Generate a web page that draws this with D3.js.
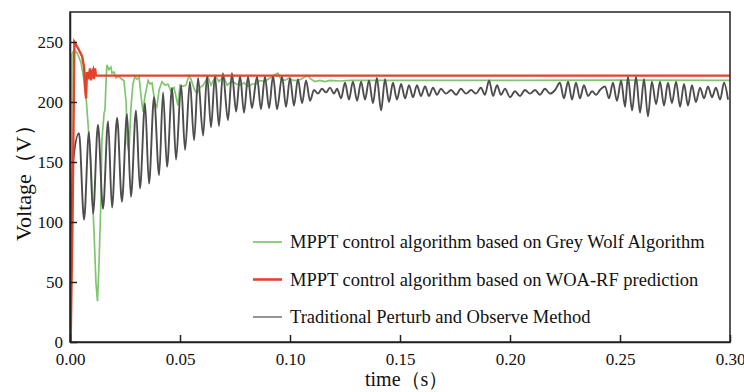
<!DOCTYPE html>
<html lang="en">
<head>
<meta charset="utf-8"/>
<script src="https://d3js.org/d3.v7.min.js"></script>
<title>MPPT voltage</title>
<style>
    body { margin: 0; background: #fff; }
    svg text { font-family: "Liberation Serif", "Times New Roman", serif; fill: #111; }
    .axis path, .axis line { stroke: #222; stroke-width: 1.5; }
    .axis text { font-size: 17px; }
    .trace { fill: none; }
</style>
</head>
<body>
<svg id="chart" width="744" height="392"></svg>
<script>
    // ticks
    const xTicks = [0, 0.05, 0.10, 0.15, 0.20, 0.25, 0.30];
    const yTicks = [0, 50, 100, 150, 200, 250];

    const legendLabels = [
        "MPPT control algorithm based on Grey Wolf Algorithm",
        "MPPT control algorithm based on WOA-RF prediction",
        "Traditional Perturb and Observe Method"
    ];

    // [time (s), voltage (V)]
    const greyWolf = [
        [0, 5], [0.0005, 120], [0.0009, 240], [0.0018, 243], [0.0032, 241], [0.0050, 233],
        [0.0064, 218], [0.0073, 204], [0.0082, 182], [0.0095, 149], [0.0109, 93], [0.0118, 49],
        [0.0125, 34], [0.0132, 66], [0.0141, 121], [0.0145, 168], [0.0155, 191], [0.0159, 193],
        [0.0164, 218], [0.0168, 231], [0.0177, 227], [0.0186, 229], [0.0191, 224], [0.0200, 225],
        [0.0209, 220], [0.0223, 221], [0.0236, 219], [0.0245, 218], [0.0255, 200], [0.0261, 165],
        [0.0268, 158], [0.0277, 195], [0.0286, 215], [0.0295, 221], [0.0305, 219], [0.0314, 221],
        [0.0323, 205], [0.0332, 192], [0.0341, 205], [0.0355, 218], [0.0364, 215], [0.0373, 216],
        [0.0386, 199], [0.0395, 196], [0.0405, 210], [0.0418, 217], [0.0432, 214], [0.0445, 215],
        [0.0459, 209], [0.0473, 212], [0.0486, 201], [0.0491, 197], [0.0500, 214], [0.0514, 213],
        [0.0527, 214], [0.0541, 222], [0.0550, 219], [0.0564, 211], [0.0577, 207], [0.0591, 212],
        [0.0605, 214], [0.0618, 218], [0.0627, 221], [0.0641, 214], [0.0655, 219], [0.0664, 221],
        [0.0677, 217], [0.0691, 220], [0.0700, 221], [0.0714, 214], [0.0727, 216], [0.0741, 217],
        [0.0755, 215], [0.0773, 214], [0.0791, 216], [0.0809, 213], [0.0827, 215], [0.0845, 215],
        [0.0864, 218], [0.0882, 217], [0.0900, 219], [0.0918, 221], [0.0932, 223], [0.0945, 224],
        [0.0959, 219], [0.0977, 218], [0.0995, 220], [0.1014, 218], [0.1032, 218], [0.1050, 219],
        [0.1068, 221], [0.1082, 222], [0.1095, 219], [0.1114, 217], [0.1136, 218], [0.1159, 217],
        [0.1182, 218], [0.1227, 217.5], [0.1273, 218], [0.15, 218], [0.20, 218], [0.25, 218.2], [0.30, 218]
    ];

    const woaRf = [
        [0.0003, 0], [0.0012, 110], [0.0020, 250], [0.0036, 245], [0.0055, 238], [0.0064, 229],
        [0.0068, 213], [0.0073, 203], [0.0077, 225], [0.0082, 219], [0.0086, 222], [0.0091, 228],
        [0.0095, 218], [0.0100, 225], [0.0105, 227], [0.0109, 219], [0.0114, 228], [0.0118, 222],
        [0.30, 222]
    ];

    const perturbObserve = [
        [0, 0], [0.0014, 150], [0.0041, 174], [0.0064, 102], [0.0086, 175], [0.0105, 107],
        [0.0127, 181], [0.0150, 111], [0.0173, 184], [0.0191, 112], [0.0214, 187], [0.0236, 117],
        [0.0259, 190], [0.0277, 121], [0.0300, 193], [0.0318, 128], [0.0341, 199], [0.0359, 132],
        [0.0382, 204], [0.0405, 139], [0.0423, 208], [0.0441, 146], [0.0464, 212], [0.0482, 152],
        [0.0505, 214], [0.0523, 160], [0.0545, 217], [0.0564, 168], [0.0582, 220], [0.0605, 172],
        [0.0623, 222], [0.0641, 179], [0.0659, 222], [0.0677, 180], [0.0695, 224], [0.0718, 185],
        [0.0736, 224], [0.0755, 192], [0.0773, 222], [0.0791, 191], [0.0809, 221], [0.0827, 195],
        [0.0850, 221], [0.0868, 194], [0.0886, 221], [0.0905, 195], [0.0923, 222], [0.0941, 194],
        [0.0964, 221], [0.0982, 196], [0.1000, 220], [0.1018, 197], [0.1036, 219], [0.1055, 199],
        [0.1073, 218], [0.1091, 201], [0.1109, 210], [0.1127, 207], [0.1145, 211], [0.1164, 208],
        [0.1182, 212], [0.1200, 207], [0.1214, 211], [0.1232, 203], [0.1250, 216], [0.1268, 202],
        [0.1286, 217], [0.1305, 201], [0.1323, 217], [0.1341, 202], [0.1359, 218], [0.1377, 199],
        [0.1395, 220], [0.1414, 193], [0.1432, 219], [0.1450, 200], [0.1468, 216], [0.1486, 202],
        [0.1505, 215], [0.1523, 203], [0.1541, 214], [0.1559, 204], [0.1577, 214], [0.1595, 205],
        [0.1614, 213], [0.1632, 205], [0.1650, 212], [0.1668, 206], [0.1686, 211], [0.1709, 207],
        [0.1732, 210], [0.1755, 206], [0.1777, 211], [0.1800, 207], [0.1823, 210], [0.1845, 207],
        [0.1868, 212], [0.1886, 206], [0.1905, 218], [0.1923, 205], [0.1941, 214], [0.1959, 206],
        [0.1977, 211], [0.2000, 204], [0.2023, 209], [0.2045, 205], [0.2068, 210], [0.2091, 207],
        [0.2114, 210], [0.2136, 206], [0.2159, 211], [0.2182, 207], [0.2205, 210], [0.2227, 216],
        [0.2245, 203], [0.2264, 217], [0.2282, 202], [0.2300, 216], [0.2318, 203], [0.2336, 214],
        [0.2355, 205], [0.2373, 209], [0.2391, 206], [0.2409, 210], [0.2432, 213], [0.2450, 203],
        [0.2468, 216], [0.2486, 201], [0.2505, 218], [0.2523, 196], [0.2536, 221], [0.2555, 193],
        [0.2573, 221], [0.2591, 191], [0.2609, 219], [0.2627, 188], [0.2645, 217], [0.2664, 198],
        [0.2682, 217], [0.2700, 197], [0.2718, 216], [0.2736, 199], [0.2755, 217], [0.2773, 196],
        [0.2791, 215], [0.2809, 197], [0.2827, 214], [0.2845, 200], [0.2864, 212], [0.2882, 203],
        [0.2900, 213], [0.2918, 204], [0.2936, 212], [0.2955, 202], [0.2973, 216], [0.2991, 202]
    ];

    const colors = {gwo: "#80c670", woa: "#e3432b", po: "#4f4c4e"};

    const svg = d3.select("#chart");
    const margin = {top: 12, right: 14, bottom: 50, left: 70};
    const W = 744 - margin.left - margin.right;
    const H = 392 - margin.top - margin.bottom;

    const x = d3.scaleLinear().domain([0, 0.3]).range([0, W]);
    const y = d3.scaleLinear().domain([0, 275]).range([H, 0]);

    const g = svg.append("g").attr("transform", `translate(${margin.left},${margin.top})`);

    g.append("clipPath").attr("id", "clip")
        .append("rect").attr("width", W).attr("height", H);

    const line = d3.line().x(d => x(d[0])).y(d => y(d[1]));
    const smooth = d3.line().x(d => x(d[0])).y(d => y(d[1])).curve(d3.curveMonotoneX);

    const plot = g.append("g").attr("clip-path", "url(#clip)");
    plot.append("path").attr("class", "trace").attr("d", line(greyWolf))
        .attr("stroke", colors.gwo).attr("stroke-width", 1.7);
    plot.append("path").attr("class", "trace").attr("d", smooth(perturbObserve))
        .attr("stroke", colors.po).attr("stroke-width", 1.9);
    plot.append("path").attr("class", "trace").attr("d", line(woaRf))
        .attr("stroke", colors.woa).attr("stroke-width", 2.4);

    // axes, ticks pointing inward
    g.append("g").attr("class", "axis")
        .attr("transform", `translate(0,${H})`)
        .call(d3.axisBottom(x).tickValues(xTicks).tickFormat(d3.format(".2f"))
            .tickSizeInner(-7).tickSizeOuter(0).tickPadding(11));
    g.append("g").attr("class", "axis")
        .call(d3.axisLeft(y).tickValues(yTicks).tickSizeInner(-7).tickSizeOuter(0).tickPadding(7));

    g.append("rect").attr("width", W).attr("height", H)
        .attr("fill", "none").attr("stroke", "#222").attr("stroke-width", 1.5);

    svg.append("text")
        .attr("transform", "translate(31,241) rotate(-90)")
        .attr("text-anchor", "start")
        .style("font-size", "22px")
        .text("Voltage（V）");

    svg.append("text")
        .attr("x", 365).attr("y", 386)
        .attr("text-anchor", "start")
        .style("font-size", "20px")
        .text("time（s）");

    // legend
    const legColors = [colors.gwo, colors.woa, colors.po];
    const legWidths = [1.7, 2.6, 1.2];
    const leg = svg.append("g").attr("transform", "translate(253,242)");
    legendLabels.forEach((label, i) => {
        const row = leg.append("g").attr("transform", `translate(0,${i * 37.5})`);
        row.append("line").attr("x1", 0).attr("x2", 29)
            .attr("stroke", legColors[i]).attr("stroke-width", legWidths[i]);
        row.append("text").attr("x", 37).attr("dy", "0.35em")
            .style("font-size", "18.5px").text(label);
    });
</script>
</body>
</html>
